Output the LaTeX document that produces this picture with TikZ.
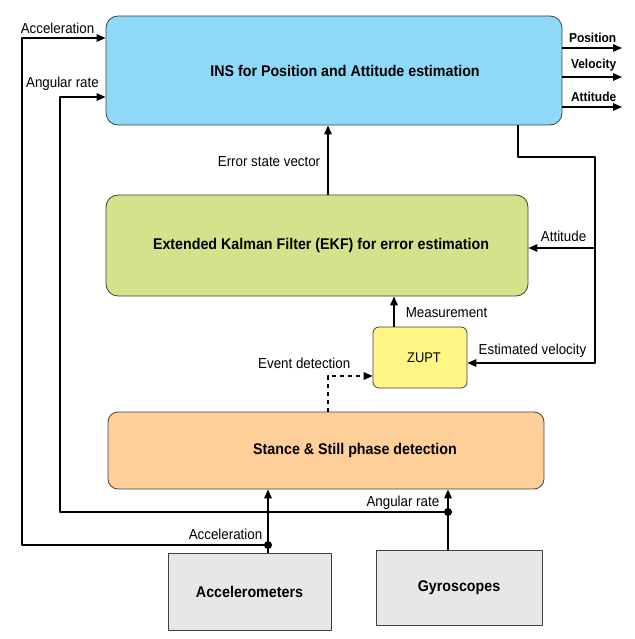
\documentclass[tikz,border=0pt]{standalone}
\usepackage{fontspec}
\setmainfont{Liberation Sans}[FakeStretch=0.92]
\usetikzlibrary{arrows.meta,positioning}
\definecolor{insblue}{HTML}{8ED8F8}
\definecolor{ekfgreen}{HTML}{D5E28B}
\definecolor{zuptyellow}{HTML}{FFF685}
\definecolor{stanceorange}{HTML}{FFCF99}
\definecolor{sensorgray}{HTML}{E6E7E8}
\begin{document}
\begin{tikzpicture}[x=1pt,y=-1pt,line join=round,line width=1.6pt,
	block/.style={draw=black!75,line width=0.8pt,rounded corners=12pt,inner sep=0pt,font=\fontsize{15.5}{17}\selectfont\bfseries},
	sensor/.style={draw=black!75,line width=0.8pt,fill=sensorgray,inner sep=0pt,font=\fontsize{15.5}{17}\selectfont\bfseries},
	lbl/.style={font=\fontsize{14.5}{16}\selectfont,inner sep=1pt},
	outlbl/.style={font=\fontsize{13}{15}\selectfont\bfseries,inner sep=1pt,anchor=south east},
	arr/.style={-{Triangle[length=9pt,width=7.5pt]}}]
				\useasboundingbox (0,0) rectangle (634,639);
				% blocks
				\node[block,fill=insblue,minimum width=456pt,minimum height=109pt] (ins) at (334,70.5) {\hspace*{22pt}INS for Position and Attitude estimation};
				\node[block,fill=ekfgreen,minimum width=422pt,minimum height=101pt] (ekf) at (317,245.5) {\hspace*{8pt}Extended Kalman Filter (EKF) for error estimation};
				\node[block,fill=zuptyellow,rounded corners=6pt,minimum width=94pt,minimum height=61pt,font=\fontsize{14}{16}\selectfont] (zupt) at (420,357.5) {\hspace*{8pt}ZUPT};
				\node[block,fill=stanceorange,rounded corners=10pt,minimum width=436pt,minimum height=77pt] (stance) at (326,450.5) {\hspace*{58pt}Stance \& Still phase detection};
				\node[sensor,minimum width=163pt,minimum height=77pt] (acc) at (249.5,591.5) {Accelerometers};
				\node[sensor,minimum width=166pt,minimum height=75pt] (gyro) at (459,587.5) {Gyroscopes};
				% junctions and corners
				\coordinate (accdot) at (268,545);
				\coordinate (gyrodot) at (448,512);
				\coordinate (acctop) at (22,38);
				\coordinate (gyrotop) at (60,97);
				\coordinate (insout) at (518,157);
				\coordinate (velright) at (595,157);
				\coordinate (errline) at (328,0);
				\coordinate (evtcorner) at (328,376);
				\coordinate (measline) at (394,0);
				% sensor paths
				\draw[arr] (accdot|-acc.north) -- (accdot|-stance.south);
				\draw[arr] (accdot) -| (acctop) -- (acctop-|ins.west);
				\draw[arr] (gyrodot|-gyro.north) -- (gyrodot|-stance.south);
				\draw[arr] (gyrodot) -| (gyrotop) -- (gyrotop-|ins.west);
				\fill (accdot) circle (4pt) (gyrodot) circle (4pt);
				\node[lbl,anchor=south west] at ([xshift=-3pt,yshift=3pt]acctop) {Acceleration};
				\node[lbl,anchor=south east] at ([xshift=-5pt,yshift=5pt]gyrotop-|ins.west) {Angular rate};
				\node[lbl,anchor=south east] at ([xshift=-4pt,yshift=4pt]accdot) {Acceleration};
				\node[lbl,anchor=south east] at ([xshift=-7pt,yshift=1pt]gyrodot) {Angular rate};
				% outputs
				\draw[arr] (ins.east|-0,48) -- (622,48);
				\draw[arr] (ins.east|-0,77) -- (622,77);
				\draw[arr] (ins.east|-0,107) -- (622,107);
				\node[outlbl] at (618,44) {Position};
				\node[outlbl] at (618,73) {Velocity};
				\node[outlbl] at (618,103) {Attitude};
				% feedback
				\draw[arr] (errline|-ekf.north) -- (errline|-ins.south);
				\node[lbl,anchor=east] at ([xshift=-6pt]errline|-0,162) {Error state vector};
				\draw[arr] (insout|-ins.south) -- (insout) -- (velright) |- (zupt.east|-0,363);
				\draw[arr] (velright|-0,248) -- (ekf.east|-0,248);
				\node[lbl,anchor=south east] at (588,243) {Attitude};
				\node[lbl,anchor=south east] at (588,359) {Estimated velocity};
				\draw[arr] (measline|-zupt.north) -- (measline|-ekf.south);
				\node[lbl,anchor=west] at ([xshift=10pt]measline|-0,313) {Measurement};
				\draw[arr,dashed,dash pattern=on 4pt off 4pt] (evtcorner|-stance.north) -- (evtcorner) -- (evtcorner-|zupt.west);
				\node[lbl,anchor=south east] at ([xshift=24pt,yshift=6pt]evtcorner) {Event detection};
			\end{tikzpicture}
\end{document}
